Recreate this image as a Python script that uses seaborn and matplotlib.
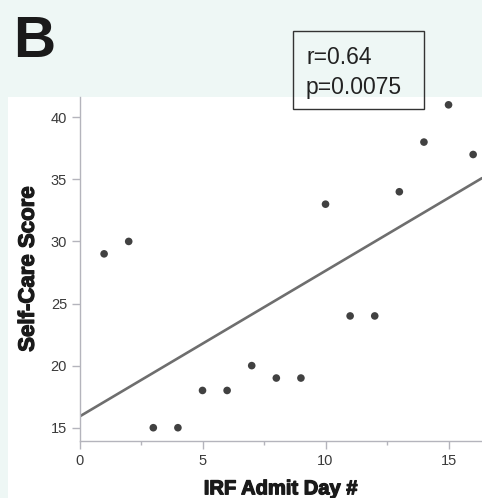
import numpy as np
import pandas as pd
import matplotlib
matplotlib.use('Agg')
import matplotlib.pyplot as plt
import matplotlib.patheffects as pe
from matplotlib.patches import Rectangle
from matplotlib.ticker import MultipleLocator
import seaborn as sns

# ── data ─────────────────────────────────────────────────────────────────────
admit_day = [1, 2, 3, 4, 5, 6, 7, 8, 9, 10, 11, 12, 13, 14, 15, 16]
self_care = [29, 30, 15, 15, 18, 18, 20, 19, 19, 33, 24, 24, 34, 38, 41, 37]
x_ticks = [0, 5, 10, 15]
y_ticks = [15, 20, 25, 30, 35, 40]
panel_letter = 'B'
r_text = 'r=0.64'
p_text = 'p=0.0075'

df = pd.DataFrame({'day': admit_day, 'score': self_care})

# ── style ────────────────────────────────────────────────────────────────────
sns.set_style('ticks')
plt.rcParams['font.family'] = ['Liberation Sans', 'DejaVu Sans']

W, H = 482, 498
bg = '#eef7f5'
axis_col = '#b4b4bc'
heavy = [pe.withStroke(linewidth=0.9, foreground='#1a1a1a')]

fig = plt.figure(figsize=(W / 100, H / 100), dpi=100)
fig.patch.set_facecolor(bg)

# white panel behind the plot
fig.patches.append(Rectangle((8 / W, 0), 1 - 8 / W, 1 - 97 / H,
                             transform=fig.transFigure, facecolor='white',
                             edgecolor='none', zorder=-5))

ax = fig.add_axes([79.5 / W, 1 - 441 / H, 1 - 79.5 / W, (441 - 97) / H])
ax.set_facecolor('none')
ax.set_xlim(0, 16.36)
ax.set_ylim(13.93, 41.63)

sns.regplot(data=df, x='day', y='score', ci=None, truncate=False, ax=ax,
            scatter_kws=dict(s=30, color='#111111', edgecolors='none', zorder=3),
            line_kws=dict(color='#6e6e6e', lw=1.9, zorder=2))

ax.set_xlim(0, 16.36)
ax.set_ylim(13.93, 41.63)
ax.set_xticks(x_ticks)
ax.set_yticks(y_ticks)
ax.xaxis.set_minor_locator(MultipleLocator(2.5))

for s in ['top', 'right']:
    ax.spines[s].set_visible(False)
for s in ['left', 'bottom']:
    ax.spines[s].set_color(axis_col)
    ax.spines[s].set_linewidth(1.0)

ax.tick_params(axis='both', which='major', length=5.5, width=1, color=axis_col,
               labelcolor='#3a3a3a', labelsize=10.5, pad=3.5)
ax.tick_params(axis='x', which='minor', length=3, width=1, color=axis_col)

ax.set_xlabel('IRF Admit Day #', fontsize=14.5, fontweight='bold',
              color='#1a1a1a', labelpad=8.5, path_effects=heavy)
ax.set_ylabel('Self-Care Score', fontsize=16, fontweight='bold',
              color='#1a1a1a', labelpad=8.5, path_effects=heavy)

# panel letter
fig.text(13 / W, 1 - 57 / H, panel_letter, fontsize=42, fontweight='bold',
         color='#1a1a1a', va='baseline', ha='left')

# stats box
fig.patches.append(Rectangle((293 / W, 1 - 109 / H), (424 - 293) / W, (109 - 31) / H,
                             transform=fig.transFigure, facecolor='none',
                             edgecolor='#333333', lw=1.0, zorder=5))
fig.text(306 / W, 1 - 64 / H, r_text, fontsize=16.5, color='#222222', va='baseline')
fig.text(306 / W, 1 - 94 / H, p_text, fontsize=16.5, color='#222222', va='baseline')

fig.savefig('out.png', dpi=100, facecolor=bg)
